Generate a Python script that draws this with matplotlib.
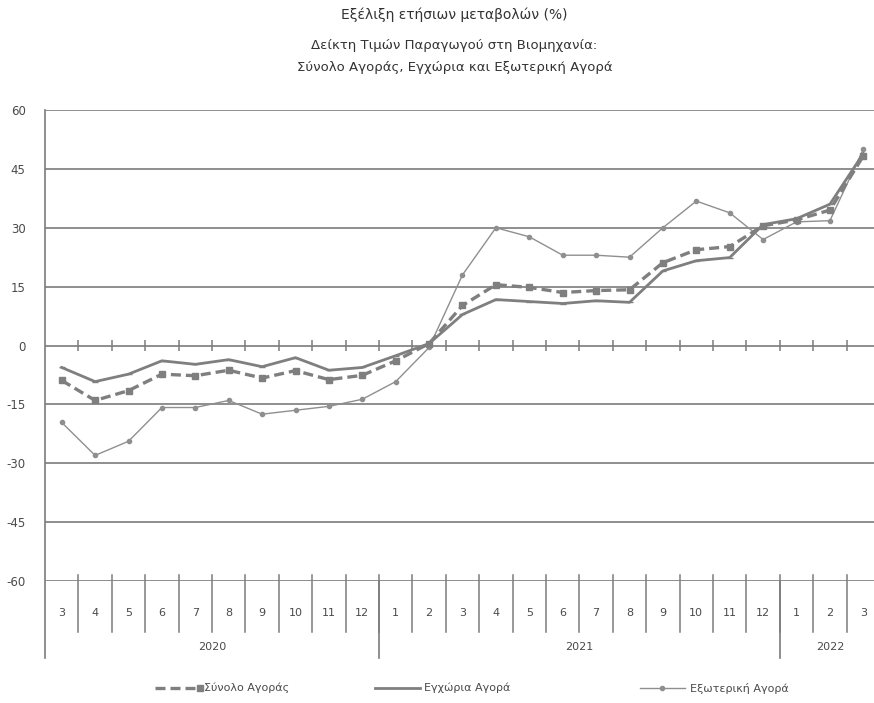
import numpy as np
import matplotlib
matplotlib.use("Agg")
import matplotlib.pyplot as plt
from matplotlib.lines import Line2D
import matplotlib.transforms as mtransforms

# months 3/2020 .. 3/2022
months = ["3", "4", "5", "6", "7", "8", "9", "10", "11", "12",
          "1", "2", "3", "4", "5", "6", "7", "8", "9", "10", "11", "12",
          "1", "2", "3"]
years = ["2020", "2021", "2022"]
year_len = [10, 12, 3]

synolo = [-8.9, -14.0, -11.5, -7.3, -7.7, -6.3, -8.3, -6.4, -8.7, -7.6,
          -3.9, 0.5, 10.2, 15.5, 14.8, 13.5, 14.0, 14.2, 21.1, 24.4, 25.2, 30.5,
          32.0, 34.5, 48.3]
egxoria = [-5.6, -9.2, -7.3, -3.9, -4.8, -3.6, -5.4, -3.1, -6.3, -5.6,
           -2.6, 0.5, 7.9, 11.7, 11.2, 10.7, 11.4, 11.0, 19.0, 21.6, 22.4, 30.8,
           32.3, 36.0, 48.9]
exoteriki = [-19.6, -28.0, -24.4, -15.8, -15.8, -14.0, -17.5, -16.5, -15.5, -13.7,
             -9.2, -0.5, 18.0, 30.0, 27.7, 23.0, 23.0, 22.5, 30.0, 36.8, 33.8, 27.0,
             31.5, 31.8, 50.0]

yticks = [60, 45, 30, 15, 0, -15, -30, -45, -60]

plt.rcParams['font.family'] = ['DejaVu Sans']
plt.rcParams['axes.unicode_minus'] = False
txt = "#4a4a4a"
gc = "#7c7c7c"

fig = plt.figure(figsize=(8.74, 7.03), dpi=100)
ax = fig.add_axes([45/874, 1-581/703, 1-45/874, 471/703])
x = np.arange(len(months))

ax.set_xlim(-0.5, (874-45)/33.4 - 0.5)
ax.set_ylim(-60, 60)
for s in ax.spines.values():
    s.set_visible(False)
ax.set_xticks([])
ax.set_yticks(yticks)
ax.tick_params(axis='y', length=0, pad=14, labelsize=8.5, labelcolor=txt)
for v in yticks:
    ax.axhline(v, color=gc, lw=1.2, zorder=1)

# zero line tick marks at category boundaries
ax.vlines(x + 0.5, -1.4, 1.4, color=gc, lw=1.1, zorder=1)

# lines
ax.plot(x, exoteriki, color="#8f8f8f", lw=1.0, marker='o', ms=3, zorder=3)
ax.plot(x, egxoria, color="#7f7f7f", lw=2.0, marker='_', ms=4, zorder=4)
ax.plot(x, synolo, color="#7f7f7f", lw=2.4, ls=(0, (3, 1.5)), marker='s', ms=4, zorder=5)

# category axis below
trans = mtransforms.blended_transform_factory(ax.transData, ax.transAxes)
ax.add_line(Line2D([-0.5, -0.5], [1.0, -0.163], transform=trans, color=gc, lw=1.2, clip_on=False))
for i in range(len(months)):
    ax.text(i, -0.068, months[i], transform=trans, ha='center', va='center',
            fontsize=8, color=txt)
    ax.add_line(Line2D([i + 0.5, i + 0.5], [0.012, -0.108], transform=trans,
                       color=gc, lw=1.1, clip_on=False))
start = -0.5
for yr, n in zip(years, year_len):
    ax.text(start + n / 2, -0.14, yr, transform=trans, ha='center', va='center',
            fontsize=8, color=txt)
    start += n
    ax.add_line(Line2D([start, start], [0.0, -0.163], transform=trans,
                       color=gc, lw=1.2, clip_on=False))

# titles
fig.text(0.52, 1-15/703, "Εξέλιξη ετήσιων μεταβολών (%)", ha='center', va='center',
         fontsize=10, color="#333333")
fig.text(0.52, 1-45/703, "Δείκτη Τιμών Παραγωγού στη Βιομηχανία:", ha='center', va='center',
         fontsize=9.5, color="#333333")
fig.text(0.52, 1-68/703, "Σύνολο Αγοράς, Εγχώρια και Εξωτερική Αγορά", ha='center', va='center',
         fontsize=9.5, color="#333333")

# legend drawn by hand
ly = 1 - 688/703
fig.add_artist(Line2D([155/874, 200/874], [ly, ly], color="#7f7f7f", lw=2.4,
                      ls=(0, (3, 1.5)), marker='s', ms=4, markevery=[1], transform=fig.transFigure))
fig.text(204/874, ly, "Σύνολο Αγοράς", ha='left', va='center', fontsize=8, color=txt)
fig.add_artist(Line2D([375/874, 420/874], [ly, ly], color="#7f7f7f", lw=2.0,
                      transform=fig.transFigure))
fig.text(424/874, ly, "Εγχώρια Αγορά", ha='left', va='center', fontsize=8, color=txt)
fig.add_artist(Line2D([640/874, 662/874, 685/874], [ly, ly, ly], color="#8f8f8f", lw=1.0,
                      marker='o', ms=3, markevery=[1], transform=fig.transFigure))
fig.text(690/874, ly, "Εξωτερική Αγορά", ha='left', va='center', fontsize=8, color=txt)

fig.savefig("out.png", dpi=100)
